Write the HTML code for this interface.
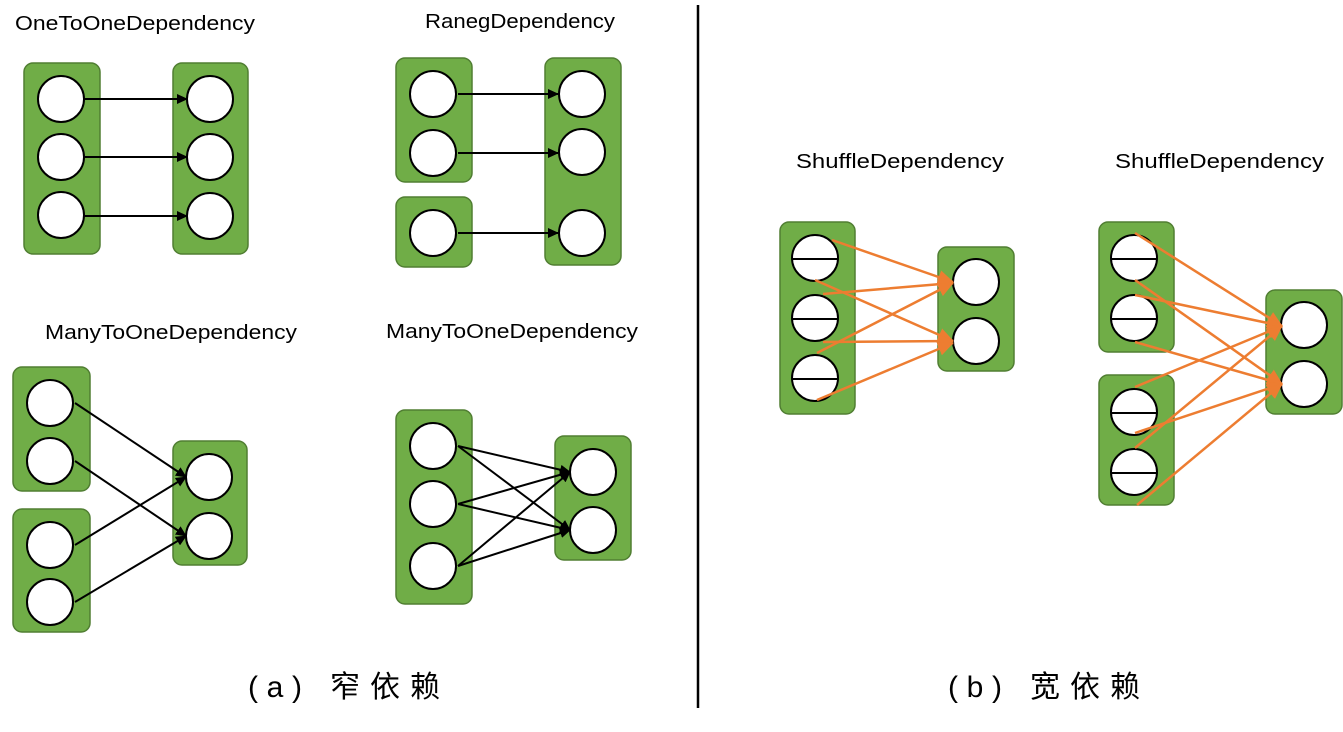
<!DOCTYPE html>
<html><head><meta charset="utf-8"><style>
html,body{margin:0;padding:0;background:#fff}
svg{display:block}
text{font-family:"Liberation Sans","Noto Sans CJK SC",sans-serif;fill:#000}
</style></head><body>
<svg width="1343" height="732" viewBox="0 0 1343 732" id="svg">
<defs>
<marker id="ab" markerWidth="11" markerHeight="10" refX="10" refY="5" orient="auto" markerUnits="userSpaceOnUse"><path d="M0,0 L11,5 L0,10 z" fill="#000"/></marker>
<marker id="ao" markerWidth="16" markerHeight="14" refX="15" refY="7" orient="auto" markerUnits="userSpaceOnUse"><path d="M0,0 L16,7 L0,14 z" fill="#ed7d31"/></marker>
</defs>
<g id="g"></g>
<line x1="698" y1="5" x2="698" y2="708" stroke="#000" stroke-width="2.5"/>
<text x="15" y="30" font-size="20" textLength="240" lengthAdjust="spacingAndGlyphs">OneToOneDependency</text>
<text x="425" y="28" font-size="20" textLength="190" lengthAdjust="spacingAndGlyphs">RanegDependency</text>
<text x="45" y="339" font-size="20" textLength="252" lengthAdjust="spacingAndGlyphs">ManyToOneDependency</text>
<text x="386" y="338" font-size="20" textLength="252" lengthAdjust="spacingAndGlyphs">ManyToOneDependency</text>
<text x="796" y="168" font-size="20" textLength="208" lengthAdjust="spacingAndGlyphs">ShuffleDependency</text>
<text x="1115" y="168" font-size="20" textLength="209" lengthAdjust="spacingAndGlyphs">ShuffleDependency</text>
<g>
<text x="248" y="697" font-size="30" textLength="54" lengthAdjust="spacing">(a)</text>
<text x="330" y="697" font-size="30" textLength="110" lengthAdjust="spacing">窄依赖</text>
</g>
<g>
<text x="948" y="697" font-size="30" textLength="54" lengthAdjust="spacing">(b)</text>
<text x="1030" y="697" font-size="30" textLength="110" lengthAdjust="spacing">宽依赖</text>
</g>
</svg>
<script>
const g=document.getElementById('g');
const NS='http://www.w3.org/2000/svg';
function mk(t,a,name){const e=document.createElementNS(NS,t);for(const k in a)e.setAttribute(k,a[k]);


g.appendChild(e);return e;}
const boxes=[[24,63,76,191],[173,63,75,191],[396,58,76,124],[396,197,76,70],[545,58,76,207],
[13,367,77,124],[13,509,77,123],[173,441,74,124],[396,410,76,194],[555,436,76,124],
[780,222,75,192],[938,247,76,124],[1099,222,75,130],[1099,375,75,130],[1266,290,76,124]];
const circles=[[61,99],[61,157],[61,215],[210,99],[210,157],[210,216],[433,94],[433,153],[433,233],[582,94],[582,152],[582,233],
[50,403],[50,461],[50,545],[50,602],[209,477],[209,536],[433,446],[433,504],[433,566],[593,472],[593,530],
[976,282],[976,341],[1304,325],[1304,384]];
const splitC=[[815,258],[815,318],[815,378],[1134,258],[1134,318],[1134,412],[1134,472]];
const blackArrows=[[84,99,187,99],[84,157,187,157],[84,216,187,216],[458,94,558,94],[458,153,558,153],[458,233,558,233],
[75,403,186,477],[75,461,186,536],[75,545,186,477],[75,602,186,536],
[458,446,570,472],[458,446,570,530],[458,504,570,472],[458,504,570,530],[458,566,570,472],[458,566,570,530]];
const orangeArrows=[[832,240,953,282],[815,280,953,341],[823,294,953,283],[823,342,953,341],[817,353,953,283],[817,400,953,343],
[1135,233,1282,326],[1135,280,1282,384],[1135,295,1282,326],[1135,342,1282,384],[1135,387,1282,326],[1135,433,1282,384],[1135,448,1282,326],[1137,505,1282,384]];
boxes.forEach(b=>mk('rect',{x:b[0],y:b[1],width:b[2],height:b[3],rx:9,fill:'#70ad47',stroke:'#507e32','stroke-width':1.5},'partition-box'));
circles.forEach(c=>mk('circle',{cx:c[0],cy:c[1],r:23,fill:'#fff',stroke:'#000','stroke-width':2},'partition'));
splitC.forEach(c=>{mk('circle',{cx:c[0],cy:c[1],r:23,fill:'#fff',stroke:'#000','stroke-width':2},'split-partition');
mk('line',{x1:c[0]-23,y1:c[1]+1,x2:c[0]+23,y2:c[1]+1,stroke:'#000','stroke-width':2},'partition-split-line');});
blackArrows.forEach(a=>mk('line',{x1:a[0],y1:a[1],x2:a[2],y2:a[3],stroke:'#000','stroke-width':2,'marker-end':'url(#ab)'},'narrow-arrow'));
orangeArrows.forEach(a=>mk('line',{x1:a[0],y1:a[1],x2:a[2],y2:a[3],stroke:'#ed7d31','stroke-width':2.5,'marker-end':'url(#ao)'},'shuffle-arrow'));
</script>
</body></html>
